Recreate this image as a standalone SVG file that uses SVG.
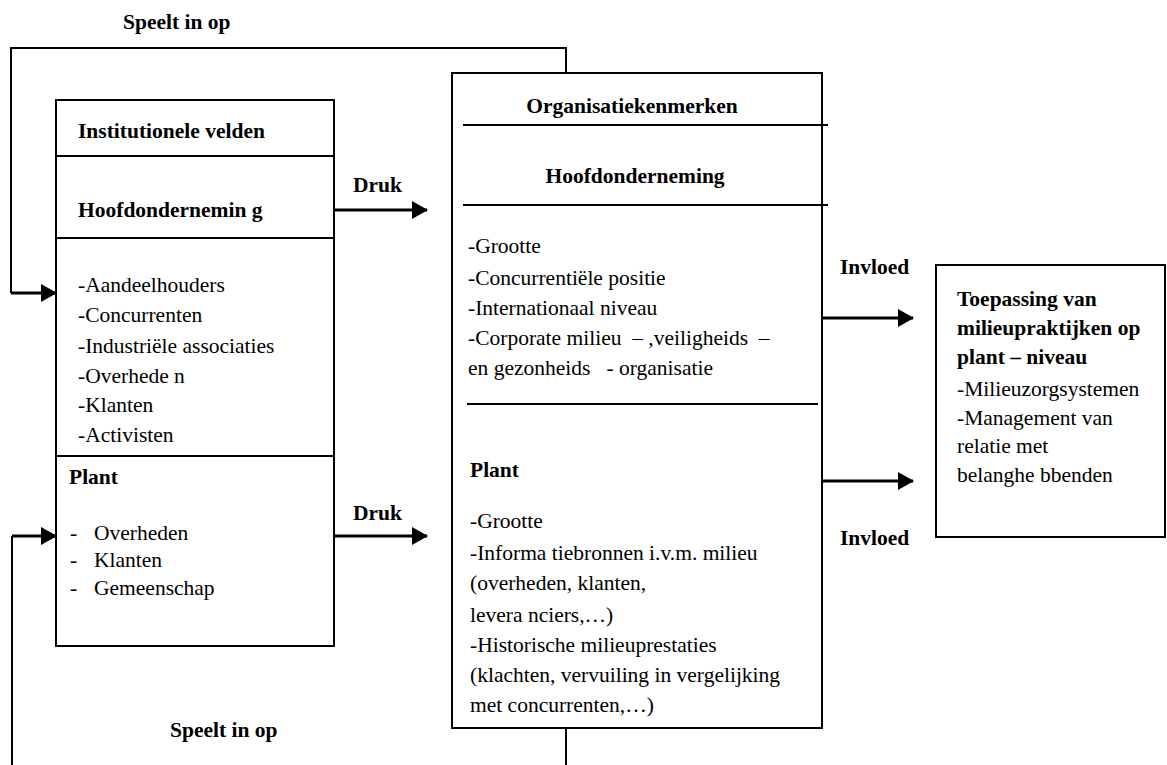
<svg xmlns="http://www.w3.org/2000/svg" width="1167" height="765" viewBox="0 0 1167 765">
<style>
text{font-family:"Liberation Serif","Times New Roman",serif;font-size:21.5px;fill:#000}
.b{font-weight:bold}
.box{fill:#fff;stroke:#000;stroke-width:2}
.ln{stroke:#000;stroke-width:2;fill:none}
.ar{stroke:#000;stroke-width:3;fill:none;marker-end:url(#ah)}
</style>
<defs>
<marker id="ah" markerUnits="userSpaceOnUse" markerWidth="16" markerHeight="18" refX="15" refY="9" orient="auto">
<path d="M0,0 L16,9 L0,18 Z" fill="#000"/>
</marker>
</defs>
<g id="connectors">
<polyline class="ln" points="566,73 566,48 11,48 11,293"/>
<line class="ar" x1="11" y1="293" x2="56" y2="293"/>
<polyline class="ln" points="12,765 12,536"/>
<line class="ar" x1="12" y1="536" x2="56" y2="536"/>
<line class="ln" x1="566" y1="728" x2="566" y2="765"/>
<line class="ar" x1="334" y1="210" x2="427" y2="210"/>
<line class="ar" x1="334" y1="536" x2="427" y2="536"/>
<line class="ar" x1="822" y1="318" x2="913" y2="318"/>
<line class="ar" x1="822" y1="481" x2="913" y2="481"/>
<text class="b" x="123" y="29">Speelt in  op</text>
<text class="b" x="170" y="737">Speelt in op</text>
<text class="b" x="353" y="192">Druk</text>
<text class="b" x="353" y="520">Druk</text>
<text class="b" x="840" y="274">Invloed</text>
<text class="b" x="840" y="545">Invloed</text>
</g>
<g id="institutionele-velden">
<rect class="box" x="56" y="100" width="278" height="546"/>
<line class="ln" x1="56" y1="156" x2="334" y2="156"/>
<line class="ln" x1="56" y1="238" x2="334" y2="238"/>
<line class="ln" x1="56" y1="456" x2="334" y2="456"/>
<text class="b" x="78" y="138">Institutionele velden</text>
<text class="b" x="78" y="217">Hoofdondernemin g</text>
<text x="78" y="292">-Aandeelhouders</text>
<text x="78" y="322">-Concurrenten</text>
<text x="78" y="353">-Industriële associaties</text>
<text x="78" y="383">-Overhede n</text>
<text x="78" y="412">-Klanten</text>
<text x="78" y="442">-Activisten</text>
<text class="b" x="69" y="484">Plant</text>
<text x="70" y="540">-</text><text x="94" y="540">Overheden</text>
<text x="70" y="567">-</text><text x="94" y="567">Klanten</text>
<text x="70" y="595">-</text><text x="94" y="595">Gemeenschap</text>
</g>
<g id="organisatiekenmerken">
<rect class="box" x="452" y="73" width="370" height="655"/>
<line class="ln" x1="463" y1="125" x2="828" y2="125"/>
<line class="ln" x1="463" y1="205" x2="828" y2="205"/>
<line class="ln" x1="467" y1="404" x2="818" y2="404"/>
<text class="b" x="632" y="113" text-anchor="middle">Organisatiekenmerken</text>
<text class="b" x="635" y="183" text-anchor="middle">Hoofdonderneming</text>
<text x="468" y="253">-Grootte</text>
<text x="468" y="285">-Concurrentiële positie</text>
<text x="468" y="315">-Internationaal niveau</text>
<text x="468" y="345" xml:space="preserve">-Corporate milieu  – ,veiligheids  –</text>
<text x="468" y="375" xml:space="preserve">en gezonheids   - organisatie</text>
<text class="b" x="470" y="477">Plant</text>
<text x="470" y="528">-Grootte</text>
<text x="470" y="560">-Informa tiebronnen i.v.m. milieu</text>
<text x="470" y="590">(overheden, klanten,</text>
<text x="470" y="622">levera nciers,…)</text>
<text x="470" y="652">-Historische milieuprestaties</text>
<text x="470" y="682">(klachten, vervuiling in vergelijking</text>
<text x="470" y="712">met concurrenten,…)</text>
</g>
<g id="toepassing">
<rect class="box" x="936" y="265" width="229" height="272"/>
<text class="b" x="957" y="306">Toepassing van</text>
<text class="b" x="957" y="335">milieupraktijken op</text>
<text class="b" x="957" y="364">plant – niveau</text>
<text x="957" y="396">-Milieuzorgsystemen</text>
<text x="957" y="425">-Management van</text>
<text x="957" y="453">relatie met</text>
<text x="957" y="482">belanghe bbenden</text>
</g>
</svg>
